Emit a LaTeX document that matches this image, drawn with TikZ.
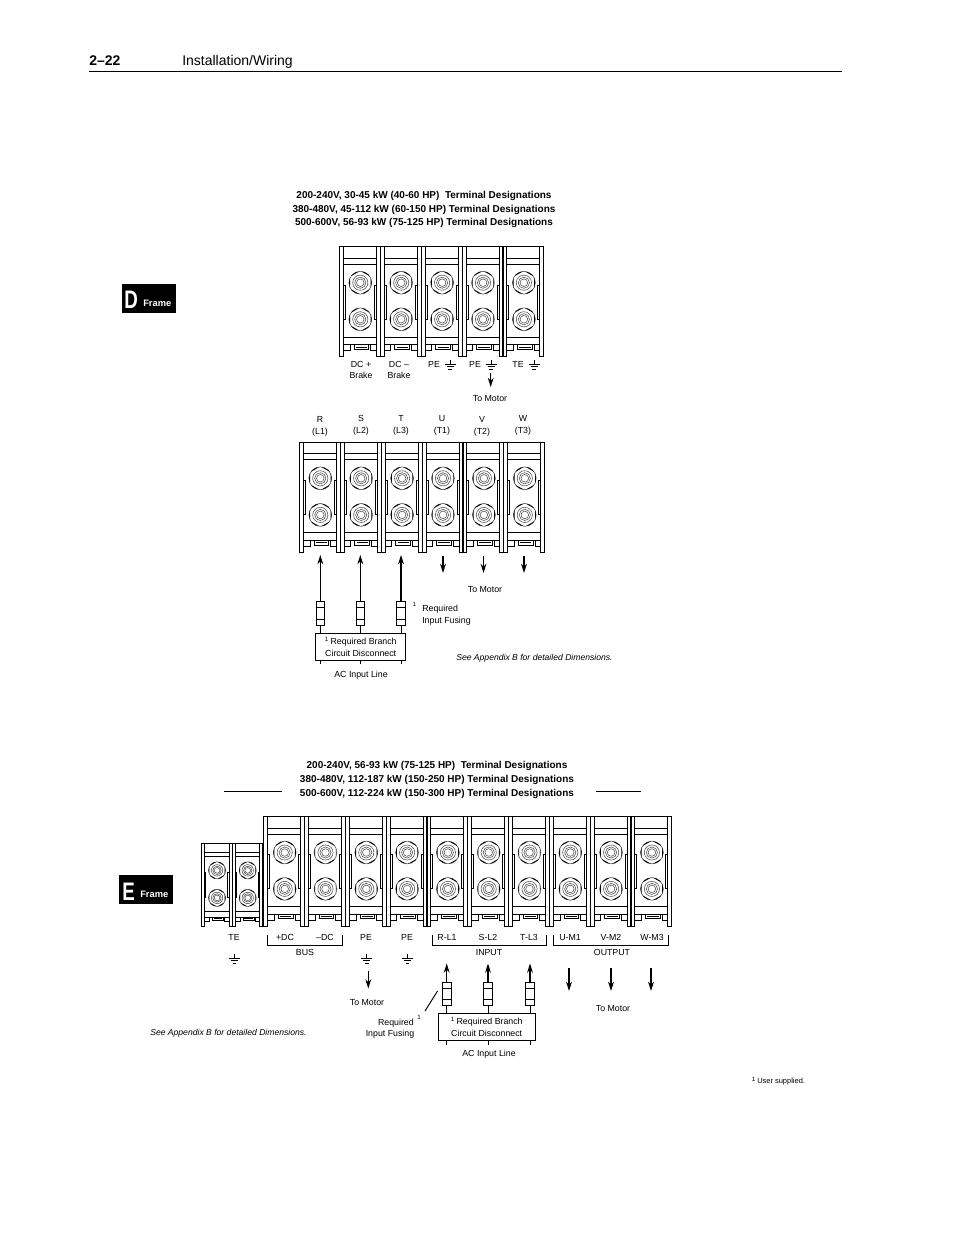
\documentclass[tikz,border=0pt]{standalone}
\usepackage{fontspec}
\setmainfont{Liberation Sans}
\usetikzlibrary{arrows.meta}
\tikzset{
  ink/.style={line width=0.7pt,draw=black},
  hair/.style={line width=0.4pt,draw=black!70},
  arw/.style={line width=0.85pt,-{Stealth[length=7pt,width=4.4pt]}},
  lab/.style={inner sep=0pt,yshift=-0.6pt,font=\fontsize{6.6}{7}\selectfont,text height=4.8pt,text depth=1pt},
  ttl/.style={inner sep=0pt,yshift=-0.8pt,font=\fontsize{7.5}{8}\selectfont\bfseries,text height=5.4pt,text depth=1.4pt},
  note/.style={inner sep=0pt,yshift=-0.6pt,font=\fontsize{6.45}{7}\selectfont\itshape,text height=4.8pt,text depth=1pt},
  sup/.style={inner sep=0pt,font=\fontsize{4.6}{5}\selectfont},
  fusebox/.style={draw=black,line width=0.7pt,inner sep=0pt,minimum width=6.4pt,minimum height=17.8pt},
  discbox/.style={draw=black,line width=0.8pt,inner sep=0pt,minimum width=67.6pt,minimum height=20pt,align=center,font=\fontsize{6.6}{8.9}\selectfont},
  badge/.style={fill=black,inner sep=0pt,minimum width=40.5pt,minimum height=21.8pt},
  lead/.style={line width=0.7pt}
}
\newcommand{\boltat}[2]{%
  \begin{scope}[shift={(#1,#2)}]
    \draw[hair] (0,0) circle (11.4);
    \begin{scope}
      \clip (0,0) circle (11.4);
      \draw[ink] (90:12.4) -- (150:12.4) -- (210:12.4) -- (270:12.4) -- (330:12.4) -- (30:12.4) -- cycle;
    \end{scope}
    \draw[hair] (0,0) circle (7.6);
    \draw[hair] (0,0) circle (5.6);
    \draw[hair] (0,0) circle (3.8);
  \end{scope}}
\newcommand{\tblock}[4]{%
  \begin{scope}[shift={(#1,#2)},xscale=#3,yscale=#4]
    \draw[ink] (0,0) rectangle (4,110);
    \draw[ink] (37,0) rectangle (41,110);
    \draw[ink] (4,0) -- (37,0) (4,11.6) -- (37,11.6) (4,17.5) -- (37,17.5);
    \draw[ink] (4,90.6) -- (37,90.6) (4,98) -- (37,98);
    \draw[ink] (37,38.3) -- (35,38.3) -- (35,72.6) -- (37,72.6);
    \draw[ink] (4,38.3) -- (6,38.3) -- (6,72.6) -- (4,72.6);
    \draw[ink] (4,104) -- (10.7,104) -- (10.7,98);
    \draw[ink] (37,104) -- (31.3,104) -- (31.3,98);
    \draw[ink] (14.7,98) -- (14.7,102.8) -- (29.3,102.8) -- (29.3,98);
    \draw[ink] (16.4,100.6) -- (27.6,100.6);
    \boltat{21}{36}
    \boltat{21}{72.6}
  \end{scope}}
\newcommand{\gnd}[3]{% name x y
  \coordinate (#1) at (#2,#3);
  \draw[lead] (#1) -- ++(0,4) ++(-5.5,0) -- ++(11,0) ++(-9,2.9) -- ++(7,0) ++(-5.3,2.7) -- ++(3.6,0);}
\newcommand{\fuseN}[3]{% name x ycentre
  \node[fusebox] (#1) at (#2,#3) {};
  \draw[lead] ([yshift=4.4pt]#1.west) -- ([yshift=4.4pt]#1.east) ([yshift=-4.4pt]#1.west) -- ([yshift=-4.4pt]#1.east);}
\begin{document}
\begin{tikzpicture}[x=0.75pt,y=-0.75pt]
\useasboundingbox (0,0) rectangle (954,1235);
\fill[white] (0,0) rectangle (954,1235);

% page header
\node[inner sep=0pt,anchor=base west,font=\fontsize{10.5}{12}\selectfont\bfseries] (pg) at (89,65) {2–22};
\node[inner sep=0pt,anchor=base west,font=\fontsize{10.5}{12}\selectfont] (hd) at (182,65) {Installation/Wiring};
\coordinate (ruleL) at (89,71); \coordinate (ruleR) at (842,71);
\draw[line width=0.6pt] (ruleL) -- (ruleR);

% badges
\node[badge] (bd) at (149,298.5) {};
\node[inner sep=0pt,anchor=base west,text=white,font=\fontsize{19}{20}\selectfont\bfseries] (bdl) at (124,308) {\scalebox{0.74}[1]{D}};
\node[inner sep=0pt,anchor=base west,text=white,font=\fontsize{7}{8}\selectfont\bfseries] (bdf) at (143,306.5) {Frame};
\node[badge] (be) at (145.5,889.5) {};
\node[inner sep=0pt,anchor=base west,text=white,font=\fontsize{19}{20}\selectfont\bfseries] (bel) at (122,900) {\scalebox{0.74}[1]{E}};
\node[inner sep=0pt,anchor=base west,text=white,font=\fontsize{7}{8}\selectfont\bfseries] (bef) at (140,897.5) {Frame};

% D titles
\node[ttl] (dt1) at (424,195) {200-240V, 30-45 kW (40-60 HP)\ \ Terminal Designations};
\node[ttl] (dt2) at (424,209) {380-480V, 45-112 kW (60-150 HP) Terminal Designations};
\node[ttl] (dt3) at (424,222) {500-600V, 56-93 kW (75-125 HP) Terminal Designations};

% D upper row
\foreach \i in {0,...,4} {\tblock{339.3+40.9*\i}{246.7}{1}{1}}
\draw[line width=1.2pt] (343.6,285) -- (343.6,319.3);
% D upper labels
\node[lab] (l1) at (361,364) {DC +};
\node[lab] (l2) at (361,375.5) {Brake};
\node[lab] (l3) at (399,364) {DC –};
\node[lab] (l4) at (399,375.5) {Brake};
\node[lab] (l5) at (434,364) {PE};
\node[lab] (l6) at (475,364) {PE};
\node[lab] (l7) at (518,364) {TE};
\gnd{g1}{450}{360}
\gnd{g2}{491}{360}
\gnd{g3}{534}{360}
\coordinate (a0s) at (490.7,373); \coordinate (a0e) at (490.7,387);
\draw[arw] (a0s) -- (a0e);
\node[lab] (l8) at (490,398.5) {To Motor};

% D middle labels
\node[lab] (m1) at (320,419) {R};   \node[lab] (m2) at (320,431.5) {(L1)};
\node[lab] (m3) at (361,418) {S};   \node[lab] (m4) at (361,430.5) {(L2)};
\node[lab] (m5) at (401,418) {T};   \node[lab] (m6) at (401,430.5) {(L3)};
\node[lab] (m7) at (442,418) {U};   \node[lab] (m8) at (442,430.5) {(T1)};
\node[lab] (m9) at (482,419) {V};   \node[lab] (m10) at (482,431.5) {(T2)};
\node[lab] (m11) at (523,418) {W};  \node[lab] (m12) at (523,430.5) {(T3)};

% D middle row
\foreach \i in {0,...,5} {\tblock{299.3+40.9*\i}{442.3}{1}{1}}
\draw[line width=1.2pt] (303.6,480.6) -- (303.6,515);

% D fuses and disconnect
\node[discbox] (db) at (360.7,646.7) {\raisebox{2.2pt}{\fontsize{4.6}{5}\selectfont 1} Required Branch\\Circuit Disconnect};
\fuseN{df1}{320.3}{613.2}
\fuseN{df2}{360.3}{613.2}
\fuseN{df3}{401}{613.2}
\foreach \n/\x in {1/320.3,2/360.3,3/401} {
  \coordinate (dtip\n) at (\x,555);
  \coordinate (dtick\n) at (\x,664);
  \draw[arw] (df\n.north) -- (dtip\n);
  \draw[lead] (df\n.south) -- (df\n.south |- db.north);
  \draw[lead] (dtick\n |- db.south) -- (dtick\n);
}
\foreach \n/\x in {1/443,2/483.5,3/524} {
  \coordinate (dds\n) at (\x,556);
  \coordinate (dde\n) at (\x,573);
  \draw[arw] (dds\n) -- (dde\n);
}
\node[lab] (m13) at (485,589) {To Motor};
\node[sup] (s1) at (414.5,604.5) {1};
\node[lab,anchor=west] (m14) at (422,608.5) {Required};
\node[lab,anchor=west] (m15) at (422,620.5) {Input Fusing};
\node[lab] (m16) at (361,674) {AC Input Line};
\node[note,anchor=west] (n1) at (456,657) {See Appendix B for detailed Dimensions.};

% E titles
\node[ttl] (et1) at (437,765) {200-240V, 56-93 kW (75-125 HP)\ \ Terminal Designations};
\node[ttl] (et2) at (437,779) {380-480V, 112-187 kW (150-250 HP) Terminal Designations};
\node[ttl] (et3) at (437,793) {500-600V, 112-224 kW (150-300 HP) Terminal Designations};
\coordinate (r1a) at (224,791); \coordinate (r1b) at (282,791);
\coordinate (r2a) at (596,791); \coordinate (r2b) at (641,791);
\draw[line width=0.6pt] (r1a) -- (r1b) (r2a) -- (r2b);

% E blocks
\tblock{201.3}{843.3}{0.75}{0.7518}
\tblock{232}{843.3}{0.75}{0.7518}
\draw[line width=1.2pt] (204.6,872) -- (204.6,897.5);
\foreach \i in {0,...,9} {\tblock{263.7+40.8*\i}{816.7}{1}{0.9945}}

% E labels
\node[lab] (e1) at (234,937.5) {TE};
\node[lab] (e2) at (285,937.5) {+DC};
\node[lab] (e3) at (325,937.5) {–DC};
\node[lab] (e4) at (366,937.5) {PE};
\node[lab] (e5) at (407,937.5) {PE};
\node[lab] (e6) at (447,937.5) {R-L1};
\node[lab] (e7) at (488,937.5) {S-L2};
\node[lab] (e8) at (529,937.5) {T-L3};
\node[lab] (e9) at (570,937.5) {U-M1};
\node[lab] (e10) at (611,937.5) {V-M2};
\node[lab] (e11) at (652,937.5) {W-M3};
\node[lab] (e12) at (305,952.5) {BUS};
\node[lab] (e13) at (489,952.5) {INPUT};
\node[lab] (e14) at (612,952.5) {OUTPUT};
\foreach \n/\a/\b in {1/267.3/342.3,2/432.3/546,3/553/668} {
  \coordinate (bra\n) at (\a,935);
  \coordinate (brb\n) at (\b,935);
  \draw[lead] (bra\n) -- ++(0,10) -| (brb\n);
}
\gnd{g4}{234.3}{954}
\gnd{g5}{366.7}{954}
\gnd{g6}{407.3}{954}
\coordinate (a1s) at (368.3,970.5); \coordinate (a1e) at (368.3,988.5);
\draw[arw] (a1s) -- (a1e);
\node[lab] (e15) at (367,1002.5) {To Motor};

% E fuses and disconnect
\node[discbox,minimum width=72.5pt] (eb) at (486.7,1026.7) {\raisebox{2.2pt}{\fontsize{4.6}{5}\selectfont 1} Required Branch\\Circuit Disconnect};
\fuseN{ef1}{446.7}{994}
\fuseN{ef2}{488}{994}
\fuseN{ef3}{530}{994}
\foreach \n/\x in {1/446.7,2/488,3/530} {
  \coordinate (etip\n) at (\x,963.5);
  \coordinate (etick\n) at (\x,1044.5);
  \draw[arw] (ef\n.north) -- (etip\n);
  \draw[lead] (ef\n.south) -- (ef\n.south |- eb.north);
  \draw[lead] (etick\n |- eb.south) -- (etick\n);
}
\foreach \n/\x in {1/569,2/611,3/651} {
  \coordinate (eds\n) at (\x,968);
  \coordinate (ede\n) at (\x,991);
  \draw[arw] (eds\n) -- (ede\n);
}
\coordinate (sla) at (425,1011); \coordinate (slb) at (437.5,991);
\draw[lead] (sla) -- (slb);
\node[lab] (e16) at (613,1008.5) {To Motor};
\node[lab,anchor=east] (e17) at (414,1022) {Required};
\node[sup] (s2) at (419,1017.5) {1};
\node[lab] (e18) at (390,1033) {Input Fusing};
\node[lab] (e19) at (489,1053.5) {AC Input Line};
\node[note,anchor=west] (n2) at (150,1032) {See Appendix B for detailed Dimensions.};
\node[sup] (s3) at (753.5,1079) {1};
\node[inner sep=0pt,anchor=west,font=\fontsize{5.6}{6}\selectfont] (fn) at (757,1082) {User supplied.};
\end{tikzpicture}
\end{document}
